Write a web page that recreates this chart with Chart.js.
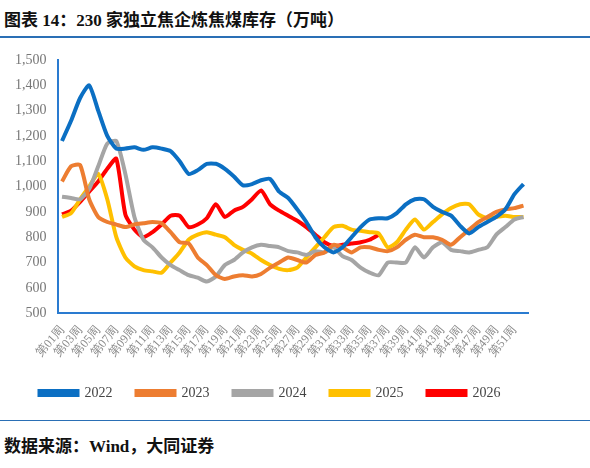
<!DOCTYPE html>
<html><head><meta charset="utf-8">
<script src="https://cdn.jsdelivr.net/npm/chart.js@4"></script>
<style>
body{margin:0;background:#fff;width:590px;height:468px;overflow:hidden;font-family:"Liberation Serif","Noto Sans CJK SC",serif}
#title{position:absolute;left:4px;top:6px;font-size:17px;font-weight:bold;color:#111}
#tline{position:absolute;left:0;top:36px;width:590px;height:2px;background:#2a6fb5}
#wrap{position:absolute;left:0;top:48px;width:590px;height:366px}
#bline{position:absolute;left:0;top:420px;width:590px;height:1px;background:#2a6fb5}
#foot{position:absolute;left:4px;top:432px;font-size:17px;font-weight:bold;color:#111}
</style></head><body>
<div id="title">图表 14：230 家独立焦企炼焦煤库存（万吨）</div>
<div id="tline"></div>
<div id="wrap"><canvas id="c" width="590" height="366"></canvas></div>
<div id="bline"></div>
<div id="foot">数据来源：Wind，大同证券</div>
<script>
const weeks=[];for(let i=1;i<=52;i++)weeks.push('第'+String(i).padStart(2,'0')+'周');
const s2022=[1180,1260,1350,1400,1300,1200,1150,1150,1155,1145,1155,1150,1140,1100,1050,1065,1090,1090,1070,1040,1005,1010,1025,1030,980,955,910,860,800,760,740,760,800,840,870,875,875,895,930,950,950,920,900,885,845,815,840,860,880,910,970,1010];
const s2023=[1020,1080,1085,950,880,860,850,840,850,855,860,855,820,780,775,720,690,650,635,645,650,645,655,680,700,720,710,700,730,740,770,760,740,760,760,750,745,760,790,810,800,800,790,770,800,830,860,880,900,910,915,925];
const s2024=[960,955,950,990,1080,1170,1180,1050,880,790,760,720,690,670,650,640,625,645,690,710,740,760,770,765,760,745,740,730,745,740,760,725,710,680,660,650,700,700,700,760,720,760,780,750,745,740,750,760,810,840,870,880];
const s2025=[880,895,950,1000,1050,950,800,720,685,670,665,660,700,740,790,810,820,810,800,770,750,735,710,690,675,670,680,720,760,800,840,845,830,825,820,815,760,780,830,870,830,860,890,915,930,930,890,875,880,885,880,880];
const s2026=[890,905,940,980,1020,1070,1110,890,830,800,820,850,885,885,840,850,875,930,880,905,920,950,985,930,905,885,865,840,810,780,765,770,775,780,790,810];
const mk=(l,d,c)=>({label:l,data:d,borderColor:c,backgroundColor:c,borderWidth:4,pointRadius:0,tension:0.2,fill:false});
new Chart(document.getElementById('c'),{type:'line',
data:{labels:weeks,datasets:[mk('2022',s2022,'#0b6fc3'),mk('2023',s2023,'#ed7d31'),mk('2024',s2024,'#a5a5a5'),mk('2025',s2025,'#ffc000'),mk('2026',s2026,'#ff0000')]},
options:{responsive:false,animation:false,
layout:{padding:{left:12,right:62,top:12,bottom:4}},
plugins:{legend:{position:'bottom',labels:{boxWidth:38,boxHeight:4,padding:24,color:'#444',font:{size:14,family:'Liberation Serif'}}},tooltip:{enabled:false}},
scales:{
x:{offset:true,grid:{display:false},border:{color:'#2a7bd0',width:2},
ticks:{color:'#888',padding:2,font:{size:12,family:'Liberation Serif'},maxRotation:50,minRotation:50,autoSkip:false,callback:(v,i)=>i%2===0&&i<51?weeks[i]:''}},
y:{min:500,max:1500,grid:{display:false},border:{color:'#2a7bd0',width:2},
ticks:{stepSize:100,color:'#777',font:{size:14,family:'Liberation Serif'},callback:v=>v.toLocaleString('en-US')}}}}});
</script></body></html>
